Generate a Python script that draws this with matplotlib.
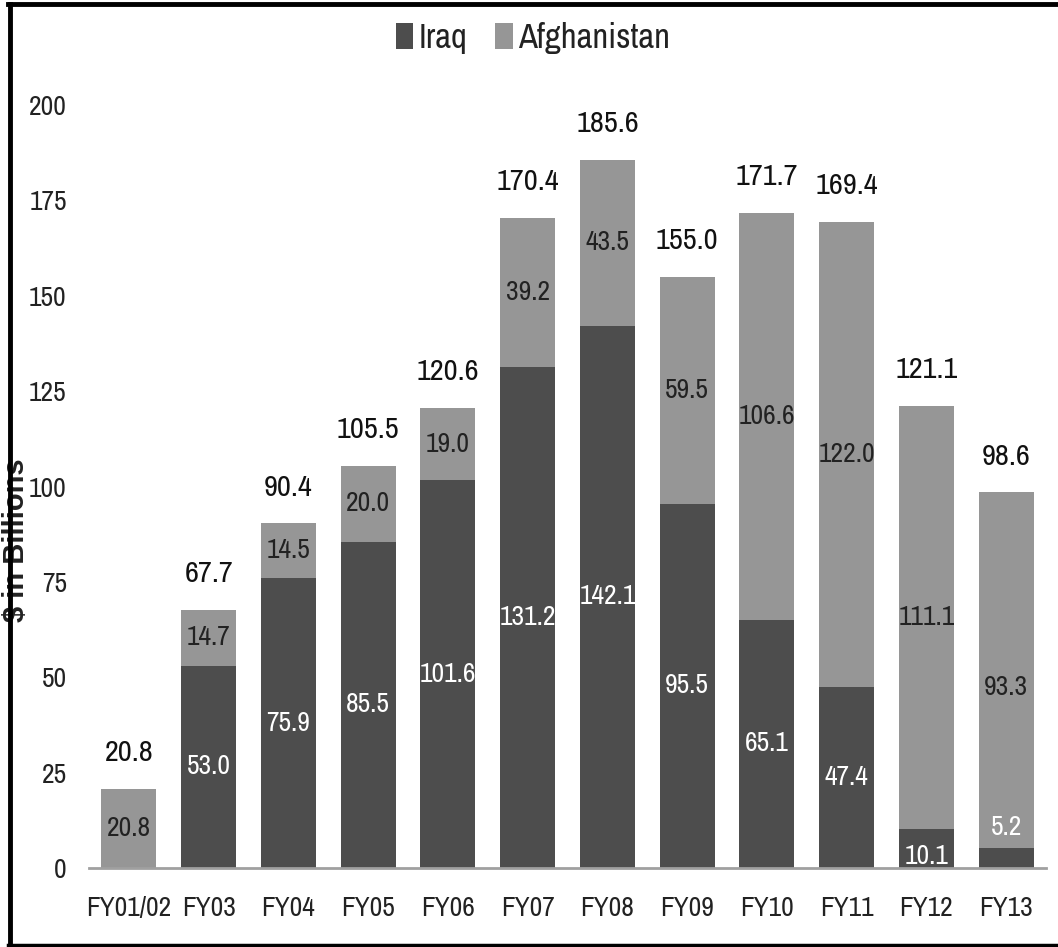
import matplotlib
matplotlib.use("Agg")
import matplotlib.pyplot as plt
from matplotlib.lines import Line2D
from matplotlib import font_manager as fm
import numpy as np

categories = ["FY01/02", "FY03", "FY04", "FY05", "FY06", "FY07", "FY08",
              "FY09", "FY10", "FY11", "FY12", "FY13"]
iraq = [0.0, 53.0, 75.9, 85.5, 101.6, 131.2, 142.1, 95.5, 65.1, 47.4, 10.1, 5.2]
afghanistan = [20.8, 14.7, 14.5, 20.0, 19.0, 39.2, 43.5, 59.5, 106.6, 122.0, 111.1, 93.3]
totals = [20.8, 67.7, 90.4, 105.5, 120.6, 170.4, 185.6, 155.0, 171.7, 169.4, 121.1, 98.6]
yticks = [0, 25, 50, 75, 100, 125, 150, 175, 200]

IRAQ_C = "#4d4d4d"
AFG_C = "#969696"

# pick a narrow font if one is installed
names = {f.name for f in fm.fontManager.ttflist}
narrow = [n for n in names if "Narrow" in n or "Condensed" in n]
if "Liberation Sans Narrow" in names:
    FAM, SCALE = "Liberation Sans Narrow", 1.0
elif narrow:
    FAM, SCALE = sorted(narrow)[0], 1.04
else:
    FAM, SCALE = "Liberation Sans", 0.88

plt.rcParams["font.family"] = [FAM, "DejaVu Sans"]

def fs(v):
    return v * SCALE

fig = plt.figure(figsize=(10.58, 9.47), dpi=100)
ax = fig.add_axes([89/1058, 1 - 868/947, (1046 - 89)/1058, (868 - 105)/947])

x = np.arange(len(categories))
w = 0.69
b1 = ax.bar(x, iraq, w, color=IRAQ_C, label="Iraq", zorder=2)
b2 = ax.bar(x, afghanistan, w, bottom=iraq, color=AFG_C, label="Afghanistan", zorder=2)

ax.set_xlim(-0.5, len(categories) - 0.5)
ax.set_ylim(0, 200)
ax.set_yticks(yticks)
ax.set_yticklabels([str(v) for v in yticks])
ax.set_xticks(x)
ax.set_xticklabels(categories)
ax.tick_params(axis="y", length=0, pad=16, labelsize=fs(19), labelcolor="#222222")
ax.tick_params(axis="x", length=0, pad=20, labelsize=fs(19), labelcolor="#222222")
for s in ["top", "right", "left"]:
    ax.spines[s].set_visible(False)
ax.spines["bottom"].set_color("#a0a0a0")
ax.spines["bottom"].set_linewidth(2.0)
ax.spines["bottom"].set_zorder(3)

# segment labels
for i in range(len(categories)):
    if iraq[i] > 0:
        yi = iraq[i] / 2
        if iraq[i] < 8:
            yi = iraq[i] + 5.5
        elif iraq[i] < 15:
            yi = iraq[i] * 0.3
        ax.text(x[i], yi, f"{iraq[i]:.1f}", ha="center", va="center",
                color="white", fontsize=fs(19), zorder=4)
    ya = iraq[i] + afghanistan[i] / 2
    if iraq[i] > 0 and iraq[i] < 8:
        ya = iraq[i] + afghanistan[i] * 0.45
    ax.text(x[i], ya, f"{afghanistan[i]:.1f}", ha="center", va="center",
            color="#222222", fontsize=fs(19), zorder=4)
    ax.annotate(f"{totals[i]:.1f}", (x[i], iraq[i] + afghanistan[i]),
                xytext=(0, 26), textcoords="offset points",
                ha="center", va="center", fontsize=fs(21), color="#111111",
                annotation_clip=False)

leg = fig.legend(handles=[b1, b2], labels=["Iraq", "Afghanistan"],
                 loc="center", bbox_to_anchor=(533/1058, 1 - 38/947),
                 ncol=2, frameon=False, fontsize=fs(24), handlelength=0.5,
                 handleheight=0.8, handletextpad=0.15, columnspacing=0.8,
                 labelcolor="#222222")

fig.text(16/1058, 1 - 540/947, "$ in Billions", rotation=90, ha="center",
         va="center", fontsize=21, fontweight="bold", color="#222222",
         family=["Liberation Sans", "DejaVu Sans"])

# frame (left, top, bottom)
for xs, ys, lw in [([9.5/1058, 9.5/1058], [1 - 4/947, 1 - 945/947], 3.5),
                   ([8/1058, 1.0], [1 - 4.5/947, 1 - 4.5/947], 3.5),
                   ([8/1058, 1.0], [1 - 945/947, 1 - 945/947], 2.5)]:
    fig.add_artist(Line2D(xs, ys, color="black", lw=lw, transform=fig.transFigure,
                          zorder=10))

fig.savefig("out.png", dpi=100)
